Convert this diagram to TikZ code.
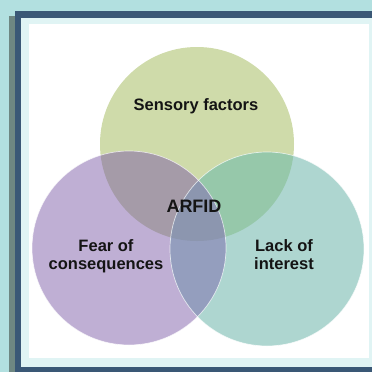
\documentclass[tikz,border=0pt]{standalone}
\usepackage{fontspec}
\setmainfont{Liberation Sans}
\usetikzlibrary{positioning}

% frame colours
\definecolor{pageback}{HTML}{B2E0E0}
\definecolor{framedark}{HTML}{3A5876}
\definecolor{frameshadow}{HTML}{6E8782}
\definecolor{frameinner}{HTML}{E0F4F4}
% circle colours and their overlaps
\definecolor{sensgreen}{HTML}{CFDBAA}
\definecolor{fearpurple}{HTML}{BFAFD4}
\definecolor{lackteal}{HTML}{AED6D0}
\definecolor{mixsf}{HTML}{A59BA8}
\definecolor{mixsl}{HTML}{96C8AA}
\definecolor{mixfl}{HTML}{949EBE}
\definecolor{mixall}{HTML}{8C96AF}
\definecolor{textdark}{HTML}{141414}

\begin{document}
\begin{tikzpicture}[x=1pt, y=-1pt,
  labeltext/.style={font=\bfseries\fontsize{16.5}{18}\selectfont, text=textdark, align=center},
  ring/.style={draw=white, draw opacity=0.7, line width=0.7pt}]
  \useasboundingbox (0,0) rectangle (372,372);
  \clip (0,0) rectangle (372,372);

  % Frame
  \fill[pageback] (0,0) rectangle (372,372);
  \fill[frameshadow] (9,16) rectangle (15,372);
  \fill[framedark] (15,11) rectangle (380,380);
  \fill[frameinner] (21,18) rectangle (380,367);
  \fill[white] (29,24) rectangle (369,358);

  % Circle centres
  \coordinate (sens) at (197,144);
  \coordinate (fear) at (129,248);
  \coordinate (lack) at (267,249);
  \def\rad{97}

  % Circles
  \fill[sensgreen] (sens) circle (\rad);
  \fill[fearpurple] (fear) circle (\rad);
  \fill[lackteal] (lack) circle (\rad);

  % Overlaps
  \begin{scope}
    \clip (sens) circle (\rad);
    \fill[mixsf] (fear) circle (\rad);
  \end{scope}
  \begin{scope}
    \clip (sens) circle (\rad);
    \fill[mixsl] (lack) circle (\rad);
  \end{scope}
  \begin{scope}
    \clip (fear) circle (\rad);
    \fill[mixfl] (lack) circle (\rad);
  \end{scope}
  \begin{scope}
    \clip (sens) circle (\rad);
    \clip (fear) circle (\rad);
    \fill[mixall] (lack) circle (\rad);
  \end{scope}

  % Outlines of the two lower circles
  \draw[ring] (fear) circle (\rad);
  \draw[ring] (lack) circle (\rad);

  % Labels
  \node[labeltext, anchor=base] (senslabel) at (196,110.5) {Sensory factors};
  \node[labeltext, font=\bfseries\fontsize{18}{20}\selectfont, anchor=base] (arfid) at (194,212) {ARFID};
  \node[labeltext] (fearlabel) at (106,256) {Fear of\\consequences};
  \node[labeltext] (lacklabel) at (284,254.5) {Lack of\\interest};
\end{tikzpicture}
\end{document}
